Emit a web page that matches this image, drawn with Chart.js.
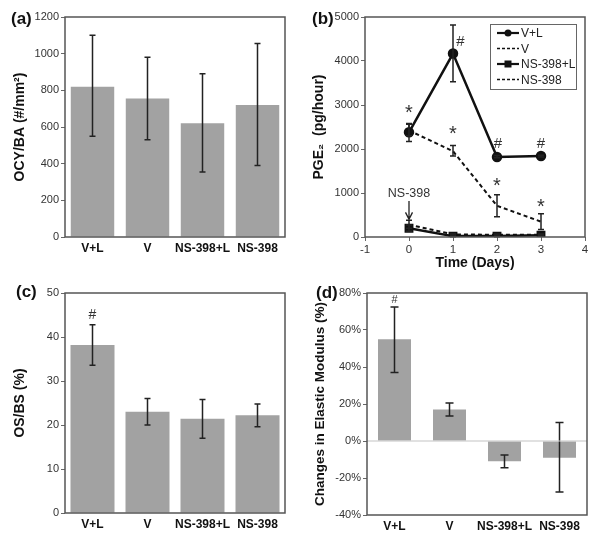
<!DOCTYPE html>
<html><head><meta charset="utf-8">
<script src="https://cdn.jsdelivr.net/npm/chart.js@4"></script>
<style>
html,body{margin:0;padding:0;background:#fff;}
#wrap{position:relative;width:600px;height:537px;overflow:hidden;background:#fff;}
canvas{position:absolute;}
.lab{position:absolute;font:bold 17px Arial,"Liberation Sans",sans-serif;color:#111;line-height:1;}
</style></head>
<body><div id="wrap">
<canvas id="ca" width="300" height="268" style="left:0;top:0"></canvas>
<canvas id="cb" width="300" height="272" style="left:300px;top:0"></canvas>
<canvas id="cc" width="300" height="269" style="left:0;top:268px"></canvas>
<canvas id="cd" width="300" height="269" style="left:300px;top:268px"></canvas>
<div class="lab" style="left:11px;top:10px">(a)</div>
<div class="lab" style="left:312px;top:10px">(b)</div>
<div class="lab" style="left:16px;top:283px">(c)</div>
<div class="lab" style="left:316px;top:284px">(d)</div>
</div>
<script>
// ---------- data ----------
const groups = ['V+L', 'V', 'NS-398+L', 'NS-398'];
// (a) OCY/BA
const ocyMean = [820, 755, 620, 720];
const ocyLow  = [550, 530, 355, 390];
const ocyHigh = [1100, 980, 890, 1055];
// (b) PGE2 time course
const days = [0, 1, 2, 3];
const pgeVL      = [2380, 4170, 1820, 1840];
const pgeVLLow   = [2170, 3530, 1800, 1820];
const pgeVLHigh  = [2580, 4820, 1850, 1860];
const pgeV       = [2420, 1950, 710, 350];
const pgeVLow    = [2300, 1840, 460, 170];
const pgeVHigh   = [2560, 2080, 960, 530];
const pgeNSL     = [200, 20, 20, 40];
const pgeNSLLow  = [130, 5, 5, 25];
const pgeNSLHigh = [270, 35, 35, 55];
const pgeNS      = [280, 60, 50, 50];
const pgeNSLow   = [200, 40, 30, 30];
const pgeNSHigh  = [380, 80, 70, 70];
const xTicks = [-1, 0, 1, 2, 3, 4];
// (c) OS/BS
const osMean = [38.2, 23, 21.4, 22.2];
const osLow  = [33.6, 20, 17, 19.6];
const osHigh = [42.8, 26, 25.8, 24.8];
// (d) Changes in elastic modulus (%)
const modMean = [55, 17, -11, -9];
const modLow  = [37, 13.5, -14.5, -27.5];
const modHigh = [72.5, 20.5, -7.5, 10];

// ---------- helpers ----------
const FONT = 'Arial, "Liberation Sans", sans-serif';
Chart.defaults.font.family = FONT;
Chart.defaults.color = '#333';
const BAR = '#a2a2a2';

const errPlugin = {
  id: 'errbars',
  afterDatasetsDraw(chart, args, opts) {
    const ctx = chart.ctx, ys = chart.scales.y;
    (opts.sets || []).forEach(s => {
      const meta = chart.getDatasetMeta(s.ds);
      s.low.forEach((lo, i) => {
        const el = meta.data[i]; if (!el) return;
        const x = el.x, y1 = ys.getPixelForValue(lo), y2 = ys.getPixelForValue(s.high[i]);
        const cap = s.cap || 3;
        ctx.save();
        ctx.strokeStyle = s.color || '#222'; ctx.lineWidth = s.width || 1.5;
        ctx.beginPath();
        ctx.moveTo(x, y1); ctx.lineTo(x, y2);
        ctx.moveTo(x - cap, y1); ctx.lineTo(x + cap, y1);
        ctx.moveTo(x - cap, y2); ctx.lineTo(x + cap, y2);
        ctx.stroke(); ctx.restore();
      });
    });
  }
};
const framePlugin = {
  id: 'frame',
  afterDraw(chart, args, opts) {
    const a = chart.chartArea, ctx = chart.ctx;
    ctx.save();
    if (opts.zero) {
      const y0 = chart.scales.y.getPixelForValue(0);
      ctx.strokeStyle = '#c4c4c4'; ctx.lineWidth = 1.2;
      ctx.beginPath(); ctx.moveTo(a.left, y0); ctx.lineTo(a.right, y0); ctx.stroke();
    }
    ctx.strokeStyle = '#555'; ctx.lineWidth = 1.5;
    ctx.strokeRect(a.left, a.top, a.right - a.left, a.bottom - a.top);
    ctx.restore();
  }
};
const notePlugin = {
  id: 'notes',
  afterDraw(chart, args, opts) {
    const ctx = chart.ctx, xs = chart.scales.x, ys = chart.scales.y;
    (opts.items || []).forEach(n => {
      ctx.save();
      ctx.fillStyle = n.color || '#333';
      ctx.font = n.font || ('15px ' + FONT);
      ctx.textAlign = 'center'; ctx.textBaseline = 'middle';
      ctx.fillText(n.text, xs.getPixelForValue(n.x) + (n.dx || 0), ys.getPixelForValue(n.y));
      ctx.restore();
    });
    (opts.arrows || []).forEach(a => {
      const x = xs.getPixelForValue(a.x), y1 = ys.getPixelForValue(a.y1), y2 = ys.getPixelForValue(a.y2);
      ctx.save(); ctx.strokeStyle = '#222'; ctx.lineWidth = 1.3;
      ctx.beginPath(); ctx.moveTo(x, y1); ctx.lineTo(x, y2);
      ctx.moveTo(x - 3.5, y2 - 7); ctx.lineTo(x, y2); ctx.lineTo(x + 3.5, y2 - 7);
      ctx.stroke(); ctx.restore();
    });
  }
};
const legendPlugin = {
  id: 'boxlegend',
  afterDraw(chart, args, opts) {
    if (!opts.items) return;
    const ctx = chart.ctx, b = opts.box;
    ctx.save();
    ctx.fillStyle = '#fff'; ctx.fillRect(b[0], b[1], b[2], b[3]);
    ctx.strokeStyle = '#666'; ctx.lineWidth = 1; ctx.strokeRect(b[0] + 0.5, b[1] + 0.5, b[2], b[3]);
    opts.items.forEach((it, i) => {
      const y = b[1] + 9 + i * 15.5, x0 = b[0] + 7, x1 = b[0] + 29;
      ctx.strokeStyle = '#111'; ctx.lineWidth = it.dash ? 1.6 : 2.2;
      ctx.setLineDash(it.dash ? [3, 2] : []);
      ctx.beginPath(); ctx.moveTo(x0, y); ctx.lineTo(x1, y); ctx.stroke();
      ctx.setLineDash([]);
      ctx.fillStyle = '#111';
      if (it.marker === 'circle') { ctx.beginPath(); ctx.arc((x0 + x1) / 2, y, 3.5, 0, Math.PI * 2); ctx.fill(); }
      if (it.marker === 'rect') { ctx.fillRect((x0 + x1) / 2 - 3.5, y - 3.5, 7, 7); }
      ctx.fillStyle = '#222'; ctx.font = '12px ' + FONT;
      ctx.textAlign = 'left'; ctx.textBaseline = 'middle';
      ctx.fillText(it.label, x1 + 2, y + 1);
    });
    ctx.restore();
  }
};
Chart.register(errPlugin, framePlugin, notePlugin, legendPlugin);

function yAxis(min, max, step, title, width, titlePad, titleSize, cb) {
  return {
    min, max,
    ticks: { stepSize: step, color: '#333', font: { size: 11 }, padding: 2, callback: cb || (v => v) },
    grid: { drawOnChartArea: false, drawTicks: true, tickLength: 4, color: '#666' },
    border: { display: false },
    title: { display: true, text: title, color: '#111', font: { size: titleSize, weight: 'bold' }, padding: { top: titlePad, bottom: 0 } },
    afterFit(s) { s.width = width; }
  };
}
function catAxis(h) {
  return {
    type: 'category',
    ticks: { color: '#111', font: { size: 12, weight: 'bold' }, padding: 4, maxRotation: 0, autoSkip: false },
    grid: { display: false, drawTicks: false, tickLength: 0 },
    border: { display: false },
    afterFit(s) { s.height = h; }
  };
}
function barChart(id, mean, low, high, yax, xh, pad, barPct, extra) {
  return new Chart(document.getElementById(id), {
    type: 'bar',
    data: { labels: groups, datasets: [{ data: mean, backgroundColor: BAR, borderWidth: 0, barPercentage: barPct, categoryPercentage: 1 }] },
    options: {
      responsive: false, animation: false,
      layout: { padding: pad },
      scales: { x: catAxis(xh), y: yax },
      plugins: {
        legend: { display: false }, tooltip: { enabled: false },
        errbars: { sets: [{ ds: 0, low, high, cap: extra.cap || 3, width: 1.5 }] },
        frame: { zero: !!extra.zero },
        notes: { items: extra.notes || [] }
      }
    }
  });
}

// (a)
barChart('ca', ocyMean, ocyLow, ocyHigh,
  yAxis(0, 1200, 200, 'OCY/BA (#/mm²)', 65, 12, 14),
  31, { left: 0, top: 17, right: 15, bottom: 0 }, 0.79, { cap: 3 });

// (c)
barChart('cc', osMean, osLow, osHigh,
  yAxis(0, 50, 10, 'OS/BS (%)', 65, 12, 14),
  24, { left: 0, top: 25, right: 15, bottom: 0 }, 0.8,
  { cap: 3, notes: [{ x: 0, y: 45, text: '#', font: '14px ' + FONT }] });

// (d)
barChart('cd', modMean, modLow, modHigh,
  yAxis(-40, 80, 20, 'Changes in Elastic Modulus (%)', 67, 12, 13.5, v => v + '%'),
  22, { left: 0, top: 25, right: 13, bottom: 0 }, 0.6,
  { cap: 4, zero: true, notes: [{ x: 0, y: 76.5, text: '#', font: '11px ' + FONT }] });

// (b)
const pts = arr => days.map((d, i) => ({ x: d, y: arr[i] }));
new Chart(document.getElementById('cb'), {
  type: 'line',
  data: {
    datasets: [
      { label: 'V+L', data: pts(pgeVL), borderColor: '#111', backgroundColor: '#111', borderWidth: 2.5, pointStyle: 'circle', pointRadius: 4, tension: 0 },
      { label: 'V', data: pts(pgeV), borderColor: '#111', borderWidth: 2, borderDash: [4, 3], pointRadius: 0, tension: 0 },
      { label: 'NS-398+L', data: pts(pgeNSL), borderColor: '#111', backgroundColor: '#111', borderWidth: 2.5, pointStyle: 'rect', pointRadius: 4.5, tension: 0 },
      { label: 'NS-398', data: pts(pgeNS), borderColor: '#111', borderWidth: 2, borderDash: [4, 3], pointRadius: 0, tension: 0 }
    ]
  },
  options: {
    responsive: false, animation: false,
    layout: { padding: { left: 0, top: 17, right: 15, bottom: 0 } },
    scales: {
      x: {
        type: 'linear', min: -1, max: 4,
        afterBuildTicks(s) { s.ticks = xTicks.map(v => ({ value: v })); },
        ticks: { color: '#333', font: { size: 11.5 }, padding: 2 },
        grid: { drawOnChartArea: false, drawTicks: true, tickLength: 4, color: '#666' },
        border: { display: false },
        title: { display: true, text: 'Time (Days)', color: '#111', font: { size: 14, weight: 'bold' }, padding: { top: 0, bottom: 0 } },
        afterFit(s) { s.height = 35; }
      },
      y: yAxis(0, 5000, 1000, 'PGE₂  (pg/hour)', 65, 11, 14)
    },
    plugins: {
      legend: { display: false }, tooltip: { enabled: false },
      errbars: { sets: [
        { ds: 0, low: pgeVLLow, high: pgeVLHigh, cap: 3, width: 1.5 },
        { ds: 1, low: pgeVLow, high: pgeVHigh, cap: 3, width: 1.5 },
        { ds: 2, low: pgeNSLLow, high: pgeNSLHigh, cap: 3, width: 1.5 },
        { ds: 3, low: pgeNSLow, high: pgeNSHigh, cap: 3, width: 1.5 }
      ] },
      frame: {},
      notes: {
        items: [
          { x: 0, y: 2800, text: '*', font: '20px ' + FONT },
          { x: 1.17, y: 4430, text: '#', font: '15px ' + FONT },
          { x: 1, y: 2330, text: '*', font: '20px ' + FONT },
          { x: 2.02, y: 2120, text: '#', font: '15px ' + FONT },
          { x: 2, y: 1150, text: '*', font: '20px ' + FONT },
          { x: 3, y: 2120, text: '#', font: '15px ' + FONT },
          { x: 3, y: 680, text: '*', font: '20px ' + FONT },
          { x: 0, y: 980, text: 'NS-398', font: '12.5px ' + FONT }
        ],
        arrows: [{ x: 0, y1: 820, y2: 400 }]
      },
      boxlegend: {
        box: [190, 24, 86, 65],
        items: [
          { label: 'V+L', marker: 'circle' },
          { label: 'V', dash: true },
          { label: 'NS-398+L', marker: 'rect' },
          { label: 'NS-398', dash: true }
        ]
      }
    }
  }
});
</script>
</body></html>
